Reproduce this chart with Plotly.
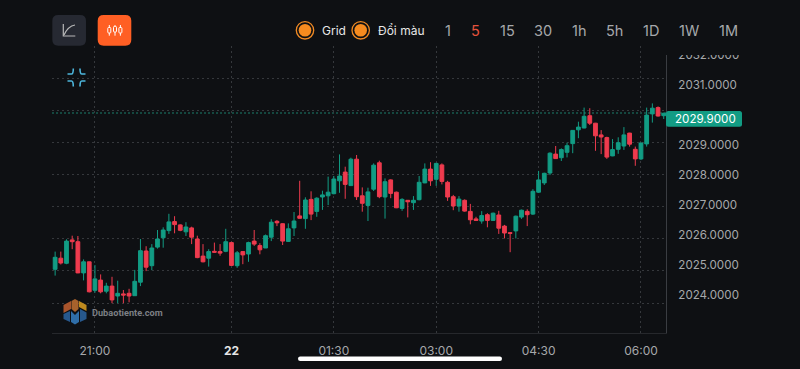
import plotly.graph_objects as go

# ---- data ----
opens = [2024.84,2025.21,2025.04,2025.82,2025.76,2024.72,2025.09,2024.14,2024.48,2024.11,
         2024.28,2023.95,2024.02,2024.04,2023.96,2024.41,2025.45,2024.96,2025.58,2025.89,
         2026.13,2026.43,2026.32,2026.09,2026.22,2025.85,2025.28,2025.21,2025.44,2025.43,
         2025.44,2025.73,2024.96,2025.43,2025.35,2025.78,2025.63,2025.55,2025.91,2026.44,
         2026.36,2025.77,2026.22,2026.62,2026.53,2027.17,2026.77,2027.25,2027.29,2027.36,
         2027.79,2028.08,2027.63,2028.51,2027.29,2026.97,2027.51,2028.39,2027.25,2027.82,
         2027.41,2026.87,2027.14,2027.06,2027.16,2027.72,2028.18,2027.84,2028.32,2027.74,
         2027.26,2026.95,2027.14,2026.77,2026.52,2026.45,2026.66,2026.47,2026.65,2026.28,
         2026.06,2026.12,2026.58,2026.77,2026.68,2027.41,2027.72,2028.05,2028.68,2028.56,
         2028.74,2029.03,2029.49,2029.55,2029.96,2029.71,2029.32,2029.23,2028.62,2028.84,
         2028.95,2029.38,2028.84,2028.52,2029.02,2030.02,2030.23,2029.96]
highs = [2025.43,2025.43,2025.84,2025.96,2025.95,2025.17,2025.09,2024.98,2024.67,2024.39,
         2024.59,2024.46,2024.15,2024.19,2024.82,2025.85,2025.61,2025.68,2026.15,2026.24,
         2026.69,2026.61,2026.34,2026.41,2026.26,2025.96,2025.68,2025.51,2025.73,2025.68,
         2026.19,2025.76,2025.45,2025.45,2025.76,2026.15,2025.71,2026.00,2026.51,2026.48,
         2026.37,2026.37,2026.75,2027.79,2027.24,2027.44,2027.24,2027.46,2027.93,2027.95,
         2028.67,2028.26,2028.56,2028.65,2027.57,2027.56,2028.37,2028.46,2027.87,2027.84,
         2027.43,2027.21,2027.15,2027.28,2027.95,2028.37,2028.41,2028.39,2028.37,2027.79,
         2027.32,2027.28,2027.17,2027.02,2026.59,2026.78,2026.71,2026.73,2026.79,2026.32,
         2026.07,2026.63,2026.83,2026.84,2027.51,2028.12,2028.06,2028.74,2028.95,2028.87,
         2029.06,2029.48,2029.76,2030.23,2030.21,2029.72,2029.48,2029.26,2029.18,2029.24,
         2029.58,2029.39,2028.93,2029.06,2030.23,2030.37,2030.27,2030.06]
lows = [2024.63,2025.00,2025.01,2025.51,2024.71,2024.47,2024.07,2024.06,2024.04,2024.04,
        2023.71,2023.71,2023.71,2023.74,2023.95,2024.28,2024.78,2024.81,2025.53,2025.56,
        2026.02,2026.04,2026.11,2025.95,2025.68,2025.21,2025.07,2024.93,2025.39,2025.29,
        2025.41,2024.95,2024.89,2025.01,2025.09,2025.62,2025.34,2025.55,2025.78,2026.28,
        2025.65,2025.75,2025.95,2026.53,2026.19,2026.48,2026.59,2026.82,2026.98,2027.34,
        2027.39,2027.19,2027.62,2027.15,2026.76,2026.45,2027.45,2027.21,2026.53,2027.21,
        2026.88,2026.79,2026.57,2026.82,2027.14,2027.71,2027.62,2027.62,2027.67,2027.12,
        2026.81,2026.76,2026.76,2026.34,2026.45,2026.36,2026.24,2026.45,2026.02,2025.87,
        2025.41,2025.87,2026.52,2026.28,2026.65,2027.39,2027.65,2027.98,2028.52,2028.45,
        2028.57,2028.71,2029.21,2029.54,2029.65,2028.79,2028.68,2028.52,2028.61,2028.69,
        2028.82,2028.93,2028.29,2028.48,2028.93,2029.73,2029.93,2029.85]
closes = [2025.24,2025.05,2025.78,2025.76,2024.72,2025.09,2024.09,2024.52,2024.09,2024.28,
          2023.82,2024.04,2023.98,2023.95,2024.44,2025.46,2024.91,2025.55,2025.85,2026.15,
          2026.42,2026.33,2026.14,2026.25,2025.91,2025.23,2025.09,2025.43,2025.41,2025.38,
          2025.76,2024.97,2025.39,2025.32,2025.73,2025.68,2025.49,2025.96,2026.41,2026.39,
          2025.78,2026.19,2026.45,2026.54,2027.15,2026.68,2027.21,2027.32,2027.41,2027.85,
          2027.95,2027.67,2028.51,2027.26,2027.04,2027.42,2028.31,2027.26,2027.76,2027.37,
          2026.89,2027.17,2027.09,2027.14,2027.74,2028.18,2027.79,2028.37,2027.77,2027.25,
          2026.95,2027.18,2026.78,2026.49,2026.47,2026.63,2026.47,2026.71,2026.21,2026.05,
          2026.04,2026.61,2026.81,2026.66,2027.44,2027.82,2028.04,2028.71,2028.53,2028.83,
          2028.96,2029.47,2029.58,2029.94,2029.71,2029.29,2029.25,2028.58,2028.83,2029.06,
          2029.32,2029.01,2028.52,2029.05,2029.98,2030.21,2029.95,2030.04]
candle_index = list(range(len(opens)))

x_tick_pos = [7, 31, 49, 67, 85, 103]
x_tick_text = ["21:00", "<b style='color:#e6e6e6'>22</b>", "01:30", "03:00", "04:30", "06:00"]
y_tick_vals = [2024, 2025, 2026, 2027, 2028, 2029, 2031, 2032]
y_tick_text = ["%d.0000" % v for v in y_tick_vals]
last_price = 2029.90
last_line = 2030.05
periods = ["1", "5", "15", "30", "1h", "5h", "1D", "1W", "1M"]
period_x = [448, 475.5, 507, 543, 579, 614, 651, 689, 728]
active_period = "5"

BG = "#0e1013"
GREEN = "#129c84"
RED = "#ee3b4e"
L, R_, T, B = 52, 666, 46, 333
W, H = 800, 369
FONT = "Inter"


def X(p):
    return (p - L) / (R_ - L)


def Y(p):
    return (B - p) / (B - T)


def P(cmds):
    out = []
    for c in cmds:
        if isinstance(c, str):
            out.append(c)
        else:
            out.append("%.5f,%.5f" % (X(c[0]), Y(c[1])))
    return " ".join(out)


def rrect(x0, y0, x1, y1, r):
    return P(["M", (x0 + r, y0), "L", (x1 - r, y0), "Q", (x1, y0), (x1, y0 + r),
              "L", (x1, y1 - r), "Q", (x1, y1), (x1 - r, y1),
              "L", (x0 + r, y1), "Q", (x0, y1), (x0, y1 - r),
              "L", (x0, y0 + r), "Q", (x0, y0), (x0 + r, y0), "Z"])


def pshape(path, fill=None, line=None, lw=1.5):
    return dict(type="path", xref="paper", yref="paper", path=path, layer="above",
                fillcolor=fill or "rgba(0,0,0,0)",
                line=dict(color=line or "rgba(0,0,0,0)", width=lw if line else 0))


def circ(cx, cy, r, fill=None, line=None, lw=1.5):
    return dict(type="circle", xref="paper", yref="paper", layer="above",
                x0=X(cx - r), x1=X(cx + r), y0=Y(cy + r), y1=Y(cy - r),
                fillcolor=fill or "rgba(0,0,0,0)",
                line=dict(color=line or "rgba(0,0,0,0)", width=lw if line else 0))


def txt(px, py, s, color, size, family=FONT, xanchor="center"):
    return dict(x=X(px), y=Y(py), xref="paper", yref="paper", text=s, showarrow=False,
                xanchor=xanchor, yanchor="middle", font=dict(family=family, size=size, color=color))


fig = go.Figure(go.Candlestick(
    x=candle_index, open=opens, high=highs, low=lows, close=closes,
    increasing=dict(line=dict(color=GREEN, width=1), fillcolor=GREEN),
    decreasing=dict(line=dict(color=RED, width=1), fillcolor=RED),
    whiskerwidth=0, showlegend=False, hoverinfo="skip",
))

shapes = [
    dict(type="line", xref="paper", yref="y", x0=0, x1=1, y0=last_line, y1=last_line,
         layer="below", line=dict(color="#1a7f6d", width=1, dash="2px,2px")),
    # cover clipping the top label
    dict(type="rect", xref="paper", yref="paper", x0=X(666), x1=X(800), y0=Y(55), y1=Y(0),
         layer="above", fillcolor=BG, line=dict(width=0)),
    # price tag
    pshape(rrect(666, 111, 742, 126.7, 2.5), fill=GREEN),
    # line-chart button
    pshape(rrect(52.3, 15, 86, 45.7, 6), fill="#262932"),
    pshape(P(["M", (63.3, 24), "L", (63.3, 36), "L", (75.3, 36)]), line="#b8b8b8", lw=1.2),
    pshape(P(["M", (64, 35), "Q", (68, 26), (75, 25)]), line="#b8b8b8", lw=1.2),
    # candle button
    pshape(rrect(97.7, 15, 131.3, 45.7, 6), fill="#ff5f24"),
    # home bar
    pshape(rrect(298, 356.5, 502, 361, 2.2), fill="#ffffff"),
    # radio buttons
    circ(305, 30.3, 8.7, line="#f08a24", lw=1.3),
    circ(305, 30.3, 6.3, fill="#f68b1f"),
    circ(360.7, 30.3, 8.7, line="#f08a24", lw=1.3),
    circ(360.7, 30.3, 6.3, fill="#f68b1f"),
]
for cx in (109.3, 115, 120.4):
    shapes.append(pshape(P(["M", (cx, 25), "L", (cx, 35.7)]), line="#ffffff", lw=1))
for cx, a, b_ in ((109.3, 27.5, 33), (115, 26.5, 32), (120.4, 27.5, 33)):
    shapes.append(pshape(rrect(cx - 1.5, a, cx + 1.5, b_, 0.8), fill="#ff5f24", line="#ffffff", lw=1))
# collapse icon
BLUE = "#4db7dd"
for pts in (
    [(67.5, 74), (71.5, 74), (73.3, 74), (73.3, 68.5)],
    [(85.5, 74), (81.8, 74), (80, 74), (80, 68.5)],
    [(67.5, 81), (71.5, 81), (73.3, 81), (73.3, 86.5)],
    [(85.5, 81), (81.8, 81), (80, 81), (80, 86.5)],
):
    shapes.append(pshape(P(["M", pts[0], "L", pts[1], "Q", pts[2], pts[3]]), line=BLUE, lw=1.6))
# logo
shapes += [
    pshape(P(["M", (63.5, 305), "L", (71, 301), "L", (71, 309), "L", (63.5, 313), "Z"]), fill="#a9552c"),
    pshape(P(["M", (71.5, 301), "L", (75, 299), "L", (78.5, 301), "L", (78.5, 309), "L", (75, 312), "L", (71.5, 309), "Z"]), fill="#a8622c"),
    pshape(P(["M", (79, 301), "L", (86.5, 305), "L", (86.5, 311), "L", (79, 307), "Z"]), fill="#bf8a1f"),
    pshape(P(["M", (63.5, 314), "L", (70, 311), "L", (70, 322), "L", (63.5, 319), "Z"]), fill="#27588c"),
    pshape(P(["M", (71, 311), "L", (75, 315), "L", (79, 311), "L", (79, 322), "L", (75, 324.5), "L", (71, 322), "Z"]), fill="#2f6ea8"),
    pshape(P(["M", (80, 309), "L", (86.5, 312.5), "L", (86.5, 319), "L", (80, 322), "Z"]), fill="#27588c"),
]

ann = [
    dict(x=X(705.5), y=last_price, xref="paper", yref="y", text="%.4f" % last_price, showarrow=False,
         xanchor="center", yanchor="middle", yshift=-1, font=dict(family=FONT, size=11.6, color="#ffffff")),
    txt(333.5, 30.5, "Grid", "#e8e8e8", 12),
    txt(400.5, 30.5, "Đổi màu", "#e8e8e8", 12),
    txt(127.5, 312, "<b>Dubaotiente.com</b>", "#7c7f84", 9.2, family="Roboto"),
]
for s, px in zip(periods, period_x):
    ann.append(txt(px, 30.5, s, "#e5533d" if s == active_period else "#a6a8ab", 14.5))

to_price = lambda p: 2024 + (294.5 - p) / 30

fig.update_layout(
    width=W, height=H, autosize=False, showlegend=False,
    paper_bgcolor=BG, plot_bgcolor=BG,
    margin=dict(l=L, r=W - R_, t=T, b=H - B, pad=0),
    font=dict(family=FONT), boxgap=0.15, boxgroupgap=0.22,
    shapes=shapes, annotations=ann,
    xaxis=dict(
        rangeslider=dict(visible=False), range=[-0.55, 107.4],
        tickmode="array", tickvals=x_tick_pos, ticktext=x_tick_text,
        showgrid=True, gridcolor="#35383c", griddash="2px,3px", gridwidth=1,
        zeroline=False, showline=True, linecolor="#26282c", linewidth=1,
        ticks="", ticklabelstandoff=7, tickfont=dict(family=FONT, size=12, color="#a6a8ab"),
    ),
    yaxis=dict(
        side="right", range=[to_price(B), to_price(T)],
        tickmode="array", tickvals=y_tick_vals, ticktext=y_tick_text,
        showgrid=False, zeroline=False, showline=True, linecolor="#3a3d42", linewidth=1,
        ticks="", ticklabelstandoff=9, tickfont=dict(family=FONT, size=11.6, color="#a6a8ab"),
        minor=dict(tickmode="linear", tick0=to_price(303), dtick=32.1 / 30, showgrid=True,
                   gridcolor="#35383c", griddash="2px,3px", gridwidth=1, ticks=""),
    ),
)
fig.write_html("out.html", config=dict(displayModeBar=False), post_script=(
    "document.documentElement.style.background='%s';"
    "document.body.style.margin='0';document.body.style.background='%s';"
    "document.body.style.overflow='hidden';" % (BG, BG)))
